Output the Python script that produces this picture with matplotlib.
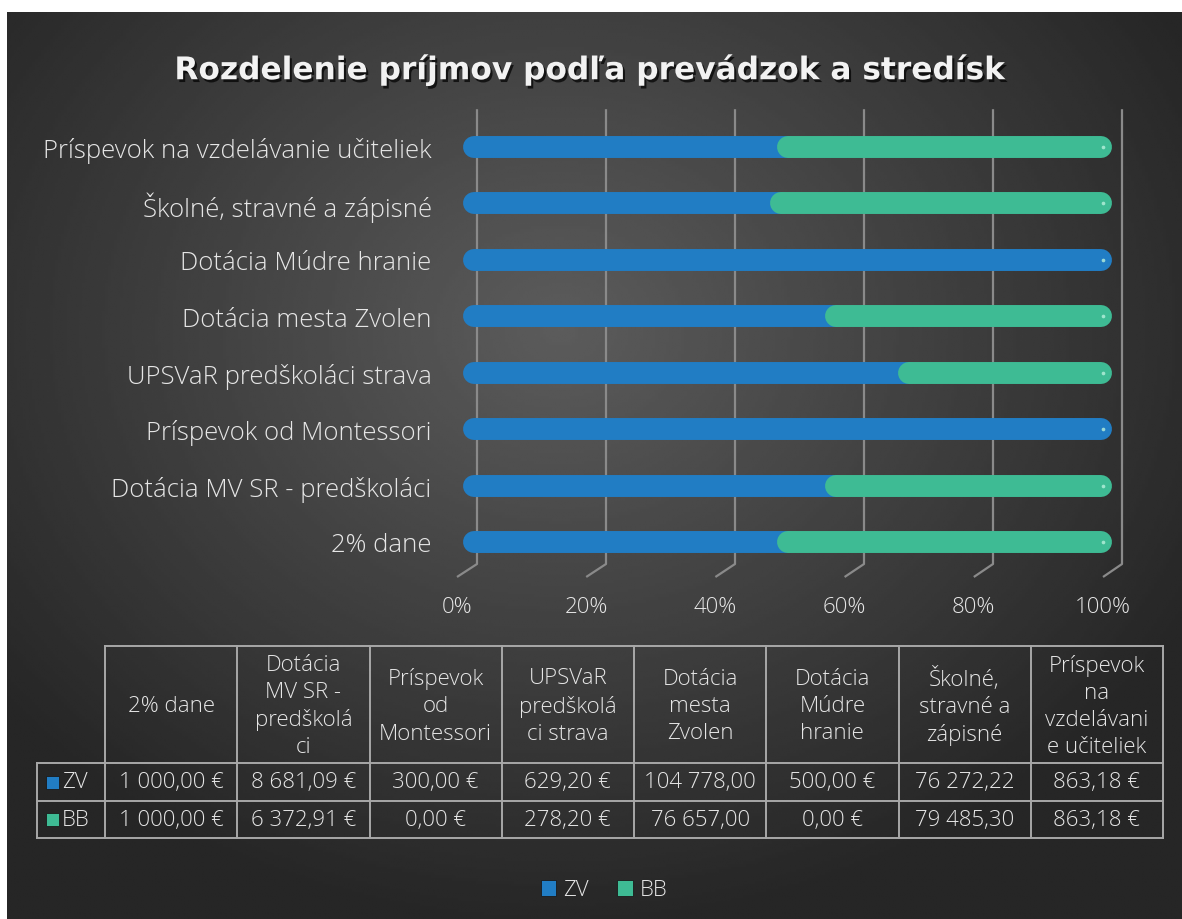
import numpy as np
import matplotlib.pyplot as plt
import matplotlib.patheffects as pe
from matplotlib.patches import Rectangle, Patch

plt.rcParams['font.family'] = ['Open Sans', 'DejaVu Sans']
plt.rcParams['font.weight'] = 'light'

categories = ["2% dane", "Dotácia MV SR - predškoláci", "Príspevok od Montessori",
              "UPSVaR predškoláci strava", "Dotácia mesta Zvolen", "Dotácia Múdre hranie",
              "Školné, stravné a zápisné", "Príspevok na vzdelávanie učiteliek"]
table_headers = ["2% dane", "Dotácia\nMV SR -\npredškolá\nci", "Príspevok\nod\nMontessori",
                 "UPSVaR\npredškolá\nci strava", "Dotácia\nmesta\nZvolen", "Dotácia\nMúdre\nhranie",
                 "Školné,\nstravné a\nzápisné", "Príspevok\nna\nvzdelávani\ne učiteliek"]
zv = [1000.00, 8681.09, 300.00, 629.20, 104778.00, 500.00, 76272.22, 863.18]
bb = [1000.00, 6372.91, 0.00, 278.20, 76657.00, 0.00, 79485.30, 863.18]
series = ["ZV", "BB"]
pct_ticks = [0, 20, 40, 60, 80, 100]

blue = "#217dc4"
green = "#3ebb94"
txt = "#e6e6e6"
grid_c = "#8a8a8a"
line_c = "#a8a8a8"

W, H = 1182, 920
fig = plt.figure(figsize=(W / 100, H / 100), dpi=100)
fig.patch.set_facecolor("white")

# dark radial background (white strip top / left like the original export)
bg = fig.add_axes([7 / W, 0, 1 - 7 / W, 1 - 13 / H])
xx, yy = np.meshgrid(np.linspace(7, W, 400), np.linspace(13, H, 320))
r = np.sqrt(((xx - 560) / 720) ** 2 + ((yy - 330) / 600) ** 2)
shade = (38 + 54 * (1 - np.clip(r, 0, 1))) / 255
bg.imshow(shade, cmap="gray", vmin=0, vmax=1, aspect="auto", interpolation="bilinear")
bg.axis("off")


def fmt(v):
    s = f"{v:,.2f}".replace(",", " ").replace(".", ",") + " €"
    if len(s) > 10:  # excel cuts the currency when the cell is too narrow
        s = s[:-2]
    return s


# ---- bars ----
ax = fig.add_axes([440 / W, 1 - 590 / H, (1170 - 440) / W, (590 - 100) / H])
ax.patch.set_alpha(0)
ax.set_xlim((440 - 474) / 627, (1170 - 474) / 627)
ax.set_ylim((543 - 590) / 56.43, (543 - 100) / 56.43)
for s in ax.spines.values():
    s.set_visible(False)

y = np.arange(len(categories))
total = np.array(zv) + np.array(bb)
share = np.array(zv) / total

# perspective gridlines: back wall + small diagonal to the floor
for t in pct_ticks:
    xb = (3 + 645 * t / 100) / 627
    xf = (-17 + 646 * t / 100) / 627
    ax.plot([xb, xb, xf], [7.67, -0.39, -0.62], color=grid_c, lw=1.6, zorder=1,
            solid_capstyle="butt")

ax.hlines(y, 0, share, colors=blue, lw=15.8, capstyle="round", zorder=3)
ax.hlines(y, share, 1, colors=green, lw=15.8, capstyle="round", zorder=4)
# small highlight at the rounded end
ax.scatter(np.full(len(y), 1.003), y, s=7, color="#b8f0dc", alpha=0.8, zorder=5, linewidths=0)

ax.set_xticks([(-17 + 646 * t / 100) / 627 for t in pct_ticks], [f"{t}%" for t in pct_ticks])
ax.set_yticks(y, categories)
ax.tick_params(axis="x", length=0, pad=5, labelsize=16, labelcolor=txt)
ax.tick_params(axis="y", length=0, pad=6, labelsize=18.5, labelcolor=txt)

# ---- overlay for title, table, legend ----
ov = fig.add_axes([0, 0, 1, 1])
ov.set_xlim(0, W)
ov.set_ylim(H, 0)
ov.axis("off")
ov.patch.set_alpha(0)

ov.text(590, 71, "Rozdelenie príjmov podľa prevádzok a stredísk", ha="center", va="center",
        fontsize=22.5, fontweight="bold", color="#f2f2f2", family="DejaVu Sans",
        path_effects=[pe.withSimplePatchShadow(offset=(1.5, -2), shadow_rgbFace="black", alpha=0.7)])

col_x = np.linspace(105, 1163, len(categories) + 1)
row_y = [647, 764, 802, 839]
lw_t = 1.4
ov.plot([col_x[0], col_x[-1]], [row_y[0]] * 2, color=line_c, lw=lw_t)
for ry in row_y[1:]:
    ov.plot([37, col_x[-1]], [ry, ry], color=line_c, lw=lw_t)
ov.plot([37, 37], [row_y[1], row_y[-1]], color=line_c, lw=lw_t)
for cx in col_x:
    ov.plot([cx, cx], [row_y[0], row_y[-1]], color=line_c, lw=lw_t)

for i, h in enumerate(table_headers):
    cx = (col_x[i] + col_x[i + 1]) / 2
    ov.text(cx, (row_y[0] + row_y[1]) / 2 + 1, h, ha="center", va="center",
            fontsize=16, color=txt, linespacing=1.38)
    for j, vals in enumerate([zv, bb]):
        ov.text(cx, (row_y[j + 1] + row_y[j + 2]) / 2, fmt(vals[i]), ha="center",
                va="center", fontsize=16, color=txt)

for j, (name, c) in enumerate(zip(series, [blue, green])):
    cy = (row_y[j + 1] + row_y[j + 2]) / 2
    ov.add_patch(Rectangle((46, cy - 6.5), 13, 13, facecolor=c, edgecolor="#1a1a1a", lw=0.6))
    ov.text(62, cy, name, ha="left", va="center", fontsize=16, color=txt)

handles = [Patch(facecolor=blue, edgecolor="#1a1a1a", lw=0.6),
           Patch(facecolor=green, edgecolor="#1a1a1a", lw=0.6)]
fig.legend(handles, series, loc="center", bbox_to_anchor=(604 / W, 1 - 891 / H), ncol=2,
           frameon=False, fontsize=16, labelcolor=txt, handlelength=0.7, handleheight=0.7,
           handletextpad=0.3, columnspacing=1.3)

fig.savefig("out.png", dpi=100, facecolor=fig.get_facecolor())
